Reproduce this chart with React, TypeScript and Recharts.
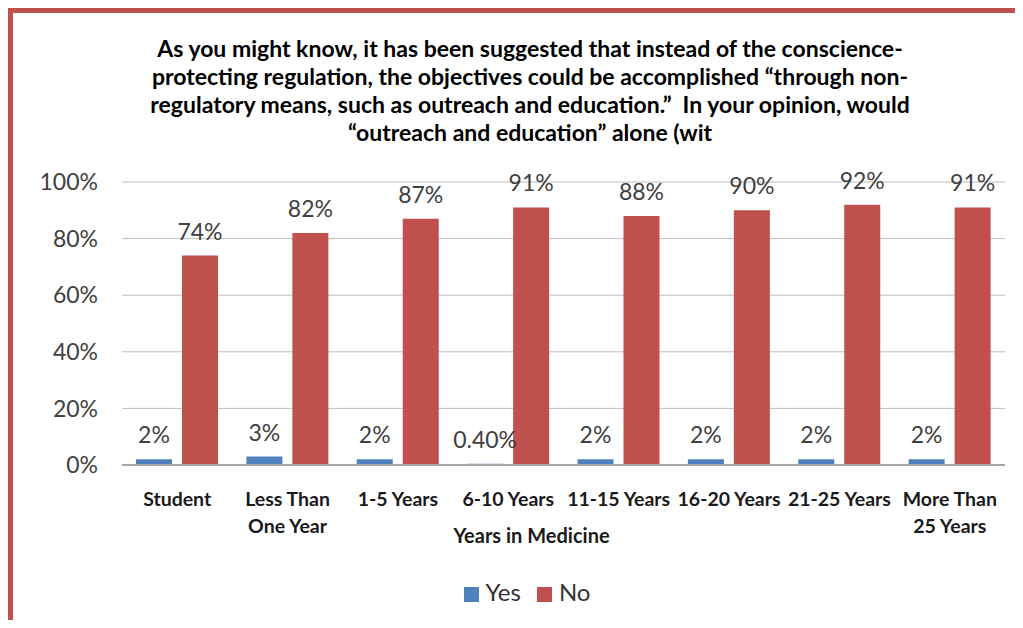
import {
  Bar,
  BarChart,
  CartesianGrid,
  Label,
  LabelList,
  Legend,
  XAxis,
  YAxis,
} from "recharts";

const categories = [
  "Student",
  "Less Than One Year",
  "1-5 Years",
  "6-10 Years",
  "11-15 Years",
  "16-20 Years",
  "21-25 Years",
  "More Than 25 Years",
];
const yesValues = [2, 3, 2, 0.4, 2, 2, 2, 2];
const noValues = [74, 82, 87, 91, 88, 90, 92, 91];
const yTicks = [0, 20, 40, 60, 80, 100];
const seriesOrder = ["Yes", "No"];

const titleLines = [
  "As you might know, it has been suggested that instead of the conscience-",
  "protecting regulation, the objectives could be accomplished \u201cthrough non-",
  "regulatory means, such as outreach and education.\u201d  In your opinion, would",
  "\u201coutreach and education\u201d alone (wit",
];

const data = categories.map((name, i) => ({
  name,
  yes: yesValues[i],
  no: noValues[i],
}));

const formatPct = (v: number) =>
  Number.isInteger(v) ? `${v}%` : `${v.toFixed(2)}%`;

// break category names into lines of at most 11 chars
const wrap = (label: string) => {
  const lines: string[] = [];
  let cur = "";
  for (const w of label.split(" ")) {
    const next = cur ? `${cur} ${w}` : w;
    if (next.length > 11 && cur) {
      lines.push(cur);
      cur = w;
    } else {
      cur = next;
    }
  }
  if (cur) lines.push(cur);
  return lines;
};

const CategoryTick = ({ x, y, payload }: any) => (
  <text
    x={x}
    y={y}
    textAnchor="middle"
    fill="#1a1a1a"
    fontSize={19.5}
    fontWeight="bold"
  >
    {wrap(payload.value).map((line, i) => (
      <tspan key={i} x={x} dy={i === 0 ? 41 : 27}>
        {line}
      </tspan>
    ))}
  </text>
);

export default function App() {
  return (
    <div
      style={{
        position: "relative",
        width: 1015,
        height: 612,
        boxSizing: "border-box",
        borderTop: "5px solid #C0504D",
        borderLeft: "5px solid #C0504D",
        overflow: "hidden",
        background: "#fff",
        fontFamily: "Lato, 'Liberation Sans', sans-serif",
      }}
    >
      <div
        style={{
          position: "absolute",
          left: 0,
          top: 21,
          width: 1010,
          paddingLeft: 24,
          boxSizing: "border-box",
          textAlign: "center",
          fontSize: 23,
          fontWeight: "bold",
          lineHeight: "28px",
          color: "#000",
          whiteSpace: "pre",
        }}
      >
        {titleLines.map((l, i) => (
          <div key={i}>{l}</div>
        ))}
      </div>
      <BarChart
        width={1010}
        height={607}
        data={data}
        margin={{ top: 169, right: 18, bottom: 13, left: 0 }}
        barSize={36}
        barGap={10}
      >
        <CartesianGrid vertical={false} stroke="#bdbdbd" />
        <XAxis
          dataKey="name"
          height={112}
          tickLine={false}
          tickSize={0}
          tickMargin={0}
          axisLine={{ stroke: "#a6a6a6", strokeWidth: 2 }}
          interval={0}
          tick={<CategoryTick />}
        >
          <Label
            value="Years in Medicine"
            position="insideBottom"
            offset={34}
            dx={-32}
            fill="#1a1a1a"
            fontSize={20}
            fontWeight="bold"
          />
        </XAxis>
        <YAxis
          width={109}
          domain={[0, 100]}
          ticks={yTicks}
          tickFormatter={(v: number) => `${v}%`}
          axisLine={false}
          tickLine={false}
          tickSize={0}
          tickMargin={24}
          tick={{ fill: "#404040", fontSize: 23 }}
        />
        <Legend
          verticalAlign="bottom"
          height={30}
          iconType="square"
          iconSize={15}
          itemSorter={(item: any) => seriesOrder.indexOf(item.value)}
          wrapperStyle={{ fontSize: 24, left: 26 }}
          formatter={(value) => (
            <span style={{ color: "#333", marginLeft: 3, marginRight: 6 }}>
              {value}
            </span>
          )}
        />
        <Bar
          dataKey="yes"
          name="Yes"
          fill="#4F81BD"
          isAnimationActive={false}
        >
          <LabelList
            dataKey="yes"
            position="top"
            offset={16}
            formatter={formatPct}
            fill="#404040"
            fontSize={23}
          />
        </Bar>
        <Bar dataKey="no" name="No" fill="#C0504D" isAnimationActive={false}>
          <LabelList
            dataKey="no"
            position="top"
            offset={16}
            formatter={formatPct}
            fill="#404040"
            fontSize={23}
          />
        </Bar>
      </BarChart>
    </div>
  );
}
